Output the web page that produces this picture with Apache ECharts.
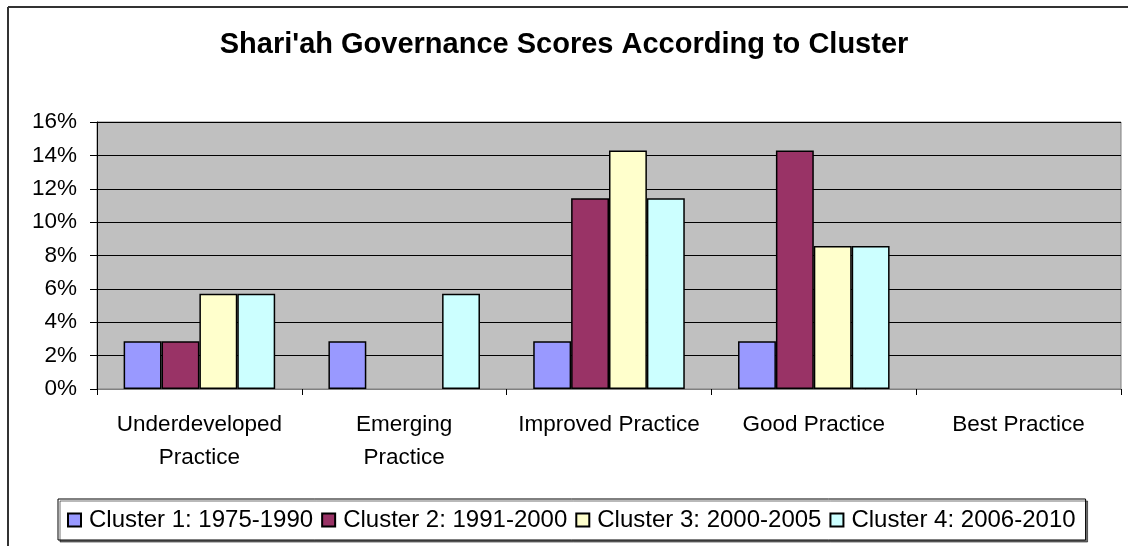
<!DOCTYPE html>
<html>
<head>
<meta charset="utf-8">
<script src="https://cdn.jsdelivr.net/npm/echarts@6/dist/echarts.min.js"></script>
<style>
  html, body { margin: 0; padding: 0; background: #fff; }
  #chart { width: 1128px; height: 546px; }
</style>
</head>
<body>
<div id="chart"></div>
<script>
// categories and series values (shares, 0..1)
var categories = ['Underdeveloped\nPractice', 'Emerging\nPractice', 'Improved Practice', 'Good Practice', 'Best Practice'];
var seriesNames = ['Cluster 1: 1975-1990', 'Cluster 2: 1991-2000', 'Cluster 3: 2000-2005', 'Cluster 4: 2006-2010'];
var cluster1 = [0.0286, 0.0286, 0.0286, 0.0286, null];
var cluster2 = [0.0286, null, 0.1143, 0.1429, null];
var cluster3 = [0.0571, null, 0.1429, 0.0857, null];
var cluster4 = [0.0571, 0.0571, 0.1143, 0.0857, null];
var colors = ['#9999FF', '#993366', '#FFFFCC', '#CCFFFF'];

var font = 'Liberation Sans, Arial, sans-serif';
var chart = echarts.init(document.getElementById('chart'));

var values = [cluster1, cluster2, cluster3, cluster4];
var series = values.map(function (d, i) {
  return {
    name: seriesNames[i],
    type: 'bar',
    data: d,
    barGap: '0%',
    barCategoryGap: '26%',
    itemStyle: { color: colors[i], borderColor: '#000', borderWidth: 1.5 }
  };
});

chart.setOption({
  animation: false,
  textStyle: { fontFamily: font },
  title: {
    text: "Shari'ah Governance Scores According to Cluster",
    left: 'center',
    top: 25,
    textStyle: { fontFamily: font, fontSize: 29, fontWeight: 'bold', color: '#000' }
  },
  // outer chart frame (top and left edges only are visible)
  graphic: [
    { type: 'line', shape: { x1: 8, y1: 7, x2: 1128, y2: 7 }, style: { stroke: '#333', lineWidth: 2 } },
    { type: 'line', shape: { x1: 8, y1: 7, x2: 8, y2: 546 }, style: { stroke: '#333', lineWidth: 2 } }
  ],
  grid: {
    left: 97, right: 7, top: 122, bottom: 157,
    show: true, backgroundColor: '#C0C0C0', borderColor: '#808080', borderWidth: 1
  },
  legend: {
    data: seriesNames,
    left: 58, top: 499,
    padding: [9, 10, 8, 9],
    itemWidth: 13, itemHeight: 13, itemGap: 8,
    icon: 'rect',
    borderColor: '#000', borderWidth: 1,
    backgroundColor: '#fff',
    shadowColor: 'rgba(0,0,0,0.55)', shadowOffsetX: 2, shadowOffsetY: 2, shadowBlur: 0,
    textStyle: { fontFamily: font, fontSize: 24, color: '#000', padding: [0, 0, 0, 3] }
  },
  xAxis: {
    type: 'category',
    data: categories,
    axisLine: { lineStyle: { color: '#808080', width: 1 } },
    axisTick: { show: true, alignWithLabel: false, length: 6, lineStyle: { color: '#000' } },
    axisLabel: { fontFamily: font, fontSize: 22.5, color: '#000', margin: 19, lineHeight: 33, interval: 0 }
  },
  yAxis: {
    type: 'value',
    min: 0, max: 0.16, interval: 0.02,
    axisLine: { show: true, lineStyle: { color: '#000', width: 1 } },
    axisTick: { show: true, length: 7, lineStyle: { color: '#000' } },
    splitLine: { lineStyle: { color: '#000', width: 1 } },
    axisLabel: {
      fontFamily: font, fontSize: 22.5, color: '#000', margin: 20,
      formatter: function (v) { return Math.round(v * 100) + '%'; }
    }
  },
  series: series
});
</script>
</body>
</html>
